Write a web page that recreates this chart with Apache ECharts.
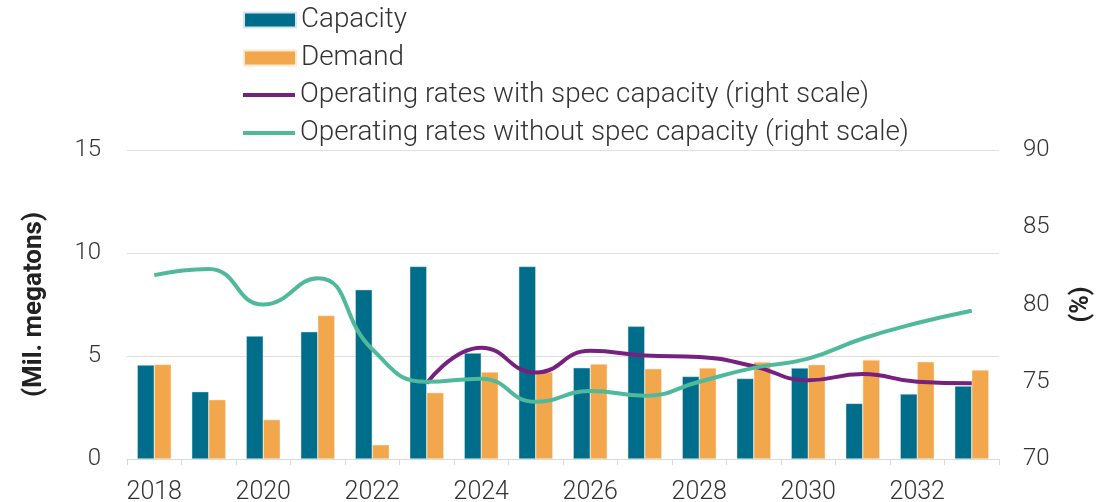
<!DOCTYPE html>
<html>
<head>
<meta charset="utf-8">
<title>Capacity vs demand</title>
<script src="https://cdn.jsdelivr.net/npm/echarts@6/dist/echarts.min.js"></script>
<style>
  html, body { margin: 0; padding: 0; background: #fff; }
  #chart { width: 1112px; height: 502px; }
</style>
</head>
<body>
<div id="chart"></div>
<script>
// data
const years = ['2018', '2019', '2020', '2021', '2022', '2023', '2024', '2025',
  '2026', '2027', '2028', '2029', '2030', '2031', '2032', '2033']
const capacity = [4.56, 3.27, 5.97, 6.18, 8.22, 9.35, 5.14, 9.35, 4.43, 6.44, 4.01, 3.91, 4.42, 2.70, 3.16, 3.54]
const demand = [4.59, 2.88, 1.91, 6.96, 0.69, 3.22, 4.22, 4.22, 4.61, 4.38, 4.42, 4.71, 4.58, 4.81, 4.72, 4.32]
// right scale (%)
const rateWithSpec = [null, null, null, null, null, 74.9, 77.2, 75.6, 77.0, 76.7, 76.6, 76.0, 75.1, 75.5, 75.0, 74.9]
const rateWithoutSpec = [81.9, 82.3, 80.0, 81.7, 77.1, 75.0, 75.2, 73.7, 74.4, 74.1, 75.0, 75.9, 76.5, 77.8, 78.8, 79.6]

const leftTicks = { min: 0, max: 15, interval: 5 }
const rightTicks = { min: 70, max: 90, interval: 5 }

const FONT = 'Roboto'
const TXT = '#333333'
const WITH_SPEC = 'Operating rates with spec capacity (right scale)'
const WITHOUT_SPEC = 'Operating rates without spec capacity (right scale)'

const chart = echarts.init(document.getElementById('chart'))

function legendBox(top, names, h, icon) { // one legend block, stacked vertically
  return {
    orient: 'vertical',
    left: 238,
    top: top,
    itemWidth: 52,
    itemHeight: h,
    itemGap: 10,
    icon: icon,
    textStyle: { fontFamily: FONT, fontSize: 27.8, color: TXT, fontWeight: 300 },
    data: names
  }
}

const option = {
  animation: false,
  textStyle: { fontFamily: FONT },
  grid: { left: 127, right: 113, top: 150, bottom: 43, outerBoundsMode: 'none' },
  legend: [
    legendBox(1, ['Capacity', 'Demand'], 15, 'rect'),
    legendBox(76, [WITH_SPEC, WITHOUT_SPEC], 4, 'rect')
  ],
  xAxis: {
    type: 'category',
    data: years,
    axisLine: { lineStyle: { color: '#d9d9d9', width: 1 } },
    axisTick: { show: true, interval: 0, length: 6, lineStyle: { color: '#d9d9d9' } },
    axisLabel: { interval: 1, fontSize: 25, color: TXT, fontWeight: 300, margin: 21 }
  },
  yAxis: [
    {
      type: 'value',
      ...leftTicks,
      name: '(Mil. megatons)',
      nameLocation: 'middle',
      nameRotate: 90,
      nameGap: 80,
      nameTextStyle: { fontSize: 26, fontWeight: 'bold', color: '#222' },
      axisLine: { show: false },
      axisTick: { show: false },
      axisLabel: { fontSize: 24, color: TXT, fontWeight: 300, margin: 26 },
      splitLine: { lineStyle: { color: '#e0e0e0', width: 1 } }
    },
    {
      type: 'value',
      ...rightTicks,
      name: '(%)',
      nameLocation: 'middle',
      nameRotate: 90,
      nameGap: 70,
      nameTextStyle: { fontSize: 25, fontWeight: 'bold', color: '#222' },
      axisLine: { show: false },
      axisTick: { show: false },
      axisLabel: { fontSize: 24, color: TXT, fontWeight: 300, margin: 24 },
      splitLine: { show: false }
    }
  ],
  series: [
    {
      name: 'Capacity',
      type: 'bar',
      data: capacity,
      barWidth: 17,
      barGap: '0%',
      itemStyle: { color: '#006e8a', borderColor: '#d5e6ea', borderWidth: 0.5 }
    },
    {
      name: 'Demand',
      type: 'bar',
      data: demand,
      barWidth: 17,
      barGap: '0%',
      itemStyle: { color: '#f2a74c', borderColor: '#fde9cf', borderWidth: 0.5 }
    },
    {
      name: WITH_SPEC,
      type: 'line',
      yAxisIndex: 1,
      data: rateWithSpec,
      smooth: true,
      symbol: 'none',
      lineStyle: { color: '#76217f', width: 4 },
      itemStyle: { color: '#76217f' }
    },
    {
      name: WITHOUT_SPEC,
      type: 'line',
      yAxisIndex: 1,
      data: rateWithoutSpec,
      smooth: true,
      symbol: 'none',
      lineStyle: { color: '#4fb99c', width: 4 },
      itemStyle: { color: '#4fb99c' }
    }
  ]
}

chart.setOption(option)
</script>
</body>
</html>
